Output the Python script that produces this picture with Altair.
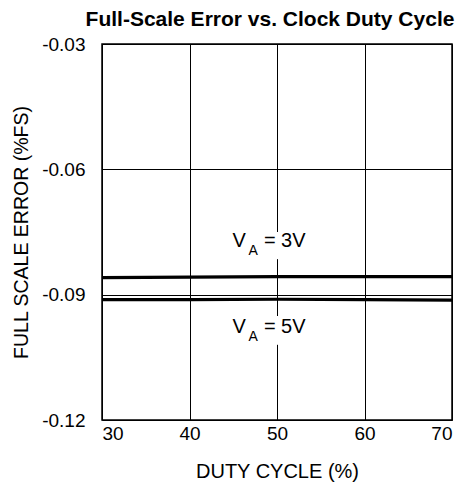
import altair as alt
import pandas as pd

duty = [30, 40, 50, 60, 70]
err_3v = [-0.0859, -0.0858, -0.0857, -0.0857, -0.0857]
err_5v = [-0.0912, -0.0912, -0.0911, -0.0912, -0.0913]

x_ticks = [30, 40, 50, 60, 70]
y_ticks = [-0.12, -0.09, -0.06, -0.03]

rows = []
for d, a, b in zip(duty, err_3v, err_5v):
    rows.append({"duty": d, "err": a, "series": "3V"})
    rows.append({"duty": d, "err": b, "series": "5V"})
df = pd.DataFrame(rows)

FONT = "Liberation Sans"
x_scale = alt.Scale(domain=[30, 70], nice=False, zero=False)
y_scale = alt.Scale(domain=[-0.12, -0.03], nice=False, zero=False)

lines = alt.Chart(df).mark_line(color="black", strokeWidth=3.2).encode(
    x=alt.X("duty:Q", scale=x_scale,
            axis=alt.Axis(title="DUTY CYCLE (%)", values=x_ticks, format="d",
                          grid=True, gridColor="black", gridWidth=1, gridOpacity=1,
                          ticks=False, domain=False, labelPadding=4,
                          labelFont=FONT, labelFontSize=19, labelColor="black",
                          titleFont=FONT, titleFontSize=20, titleFontWeight="normal",
                          titleColor="black", titlePadding=18)),
    y=alt.Y("err:Q", scale=y_scale,
            axis=alt.Axis(title="FULL SCALE ERROR (%FS)", values=y_ticks,
                          labelExpr="'' + datum.value",
                          grid=True, gridColor="black", gridWidth=1, gridOpacity=1,
                          ticks=False, domain=False, labelPadding=17,
                          labelFont=FONT, labelFontSize=19, labelColor="black",
                          titleFont=FONT, titleFontSize=19.5, titleFontWeight="normal",
                          titleColor="black", titlePadding=10)),
    detail="series:N",
)

# white gaps in the 50% gridline behind the labels
gap_df = pd.DataFrame({"x1": [49.4, 49.4], "x2": [50.6, 50.6],
                       "y1": [-0.0750, -0.0951], "y2": [-0.0815, -0.1020]})
gaps = alt.Chart(gap_df).mark_rect(color="white").encode(
    x=alt.X("x1:Q", scale=x_scale), x2="x2:Q",
    y=alt.Y("y1:Q", scale=y_scale), y2="y2:Q")

main_df = pd.DataFrame({"x": [44.9, 44.9], "y": [-0.0786, -0.0992], "t": ["V", "V"]})
sub_df = pd.DataFrame({"x": [46.75, 46.75], "y": [-0.0805, -0.1011], "t": ["A", "A"]})
rest_df = pd.DataFrame({"x": [48.5, 48.5], "y": [-0.0786, -0.0992], "t": ["= 3V", "= 5V"]})

def txt(d, size):
    return alt.Chart(d).mark_text(align="left", baseline="alphabetic", font=FONT,
                                  fontSize=size, color="black").encode(
        x=alt.X("x:Q", scale=x_scale), y=alt.Y("y:Q", scale=y_scale), text="t:N")

chart = alt.layer(lines, gaps, txt(main_df, 20), txt(sub_df, 14), txt(rest_df, 20)).properties(
    width=350, height=376,
    title=alt.Title("Full-Scale Error vs. Clock Duty Cycle", font=FONT, fontSize=21,
                    fontWeight="bold", color="black", anchor="end", offset=5, dx=-4),
    autosize=alt.AutoSizeParams(type="none"),
    padding={"left": 94, "top": 36, "right": 3, "bottom": 66},
).configure_view(stroke="black", strokeWidth=1.5)

chart.save("out.html", embed_options={"renderer": "svg", "actions": False})
